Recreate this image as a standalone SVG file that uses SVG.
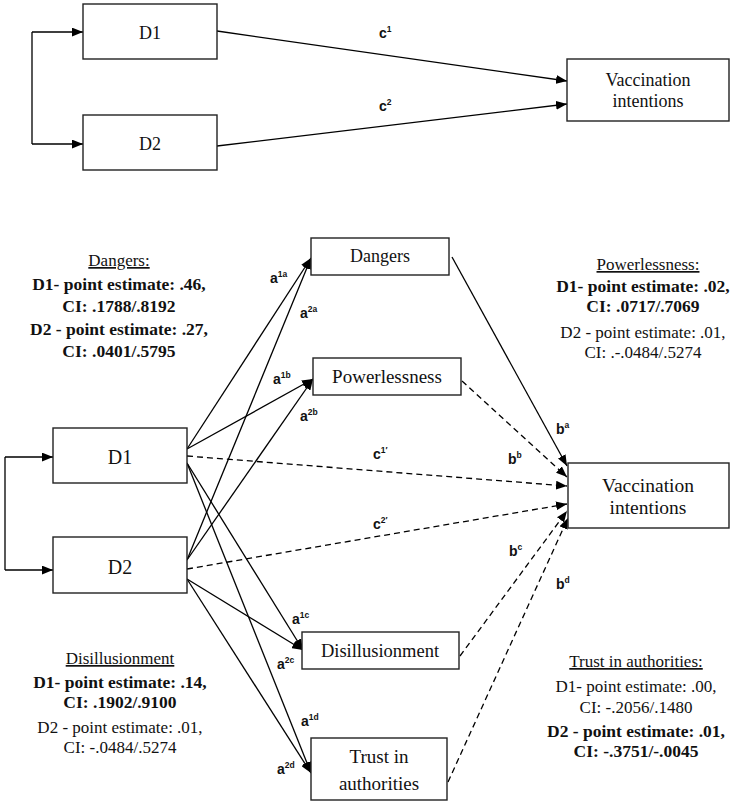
<svg xmlns="http://www.w3.org/2000/svg" width="752" height="804" viewBox="0 0 752 804">
<defs>
<marker id="ah" viewBox="0 0 10 8" refX="10" refY="4" markerWidth="11" markerHeight="9" markerUnits="userSpaceOnUse" orient="auto">
<path d="M0,0 L10,4 L0,8 Z" fill="#000"/>
</marker>
<style>
.box{fill:#fff;stroke:#222;stroke-width:1.4}
.ln{fill:none;stroke:#000;stroke-width:1.3}
.ar{marker-end:url(#ah)}
.ds{stroke-dasharray:6 4}
.t,.bt,.rt{fill:#111;text-anchor:middle}
.bt{font-weight:bold;font-size:17.5px}
.rt{font-size:17px}
.lb{font-family:'Liberation Sans',Arial,sans-serif;font-weight:bold;font-size:14px;fill:#111}
.sp{font-size:8.5px}
</style>
</defs>
<rect width="752" height="804" fill="#fff"/>

<g id="top-connectors">
<path class="ln ar" d="M32,32 L32,144 M32,32 L83,32"/>
<path class="ln ar" d="M32,144 L83,144"/>
<line class="ln ar" x1="217" y1="31" x2="567" y2="81"/>
<line class="ln ar" x1="217" y1="146" x2="567" y2="104"/>
<text class="lb" x="379" y="38">c<tspan class="sp" dy="-6">1</tspan></text>
<text class="lb" x="379" y="111">c<tspan class="sp" dy="-6">2</tspan></text>
</g>

<g font-family="Liberation Serif, Times New Roman, DejaVu Serif, serif">
<g id="top-D1">
<rect class="box" x="83" y="4" width="134" height="55"/>
<text class="t" x="150" y="39" font-size="18">D1</text>
</g>
<g id="top-D2">
<rect class="box" x="83" y="115" width="134" height="55"/>
<text class="t" x="150" y="150" font-size="18">D2</text>
</g>
<g id="top-vacc">
<rect class="box" x="567" y="59" width="162" height="62"/>
<text class="t" x="648" y="86" font-size="18">Vaccination</text>
<text class="t" x="648" y="107" font-size="18">intentions</text>
</g>
</g>

<g id="connectors">
<path class="ln ar" d="M5,457 L5,570 M5,457 L53,457"/>
<path class="ln ar" d="M5,570 L53,570"/>
<line class="ln ar" x1="187" y1="449" x2="311" y2="258"/>
<line class="ln ar" x1="187" y1="560" x2="311" y2="258"/>
<line class="ln ar" x1="187" y1="449" x2="313" y2="379"/>
<line class="ln ar" x1="187" y1="560" x2="313" y2="379"/>
<line class="ln ar" x1="187" y1="463" x2="303" y2="650"/>
<line class="ln ar" x1="187" y1="579" x2="303" y2="650"/>
<line class="ln ar" x1="187" y1="463" x2="311" y2="773"/>
<line class="ln ar" x1="187" y1="579" x2="311" y2="773"/>
<line class="ln ar ds" x1="187" y1="456" x2="567" y2="486"/>
<line class="ln ar ds" x1="187" y1="569" x2="567" y2="504"/>
<line class="ln ar" x1="452" y1="257" x2="567" y2="466"/>
<line class="ln ar ds" x1="462" y1="381" x2="567" y2="477"/>
<line class="ln ar ds" x1="460" y1="656" x2="567" y2="511"/>
<line class="ln ar ds" x1="448" y1="782" x2="568" y2="518"/>
<text class="lb" x="270" y="283">a<tspan class="sp" dy="-6">1a</tspan></text>
<text class="lb" x="300" y="318">a<tspan class="sp" dy="-6">2a</tspan></text>
<text class="lb" x="273" y="384">a<tspan class="sp" dy="-6">1b</tspan></text>
<text class="lb" x="300" y="421">a<tspan class="sp" dy="-6">2b</tspan></text>
<text class="lb" x="373" y="459">c<tspan class="sp" dy="-6">1′</tspan></text>
<text class="lb" x="373" y="529">c<tspan class="sp" dy="-6">2′</tspan></text>
<text class="lb" x="556" y="434">b<tspan class="sp" dy="-6">a</tspan></text>
<text class="lb" x="508" y="464">b<tspan class="sp" dy="-6">b</tspan></text>
<text class="lb" x="509" y="556">b<tspan class="sp" dy="-6">c</tspan></text>
<text class="lb" x="556" y="589">b<tspan class="sp" dy="-6">d</tspan></text>
<text class="lb" x="292" y="624">a<tspan class="sp" dy="-6">1c</tspan></text>
<text class="lb" x="277" y="669">a<tspan class="sp" dy="-6">2c</tspan></text>
<text class="lb" x="301" y="726">a<tspan class="sp" dy="-6">1d</tspan></text>
<text class="lb" x="277" y="774">a<tspan class="sp" dy="-6">2d</tspan></text>
</g>

<g font-family="Liberation Serif, Times New Roman, DejaVu Serif, serif">
<g id="D1">
<rect class="box" x="53" y="428" width="134" height="55"/>
<text class="t" x="120" y="464" font-size="20">D1</text>
</g>
<g id="D2">
<rect class="box" x="53" y="537" width="134" height="56"/>
<text class="t" x="120" y="574" font-size="20">D2</text>
</g>
<g id="dangers">
<rect class="box" x="311" y="238" width="138" height="37"/>
<text class="t" x="380" y="262" font-size="18">Dangers</text>
</g>
<g id="powerlessness">
<rect class="box" x="313" y="358" width="148" height="37"/>
<text class="t" x="387" y="383" font-size="19">Powerlessness</text>
</g>
<g id="vaccination">
<rect class="box" x="568" y="463" width="161" height="65"/>
<text class="t" x="648" y="492" font-size="19.5">Vaccination</text>
<text class="t" x="648" y="514" font-size="19.5">intentions</text>
</g>
<g id="disillusionment">
<rect class="box" x="302" y="632" width="157" height="37"/>
<text class="t" x="380" y="657" font-size="18.5">Disillusionment</text>
</g>
<g id="trust">
<rect class="box" x="311" y="738" width="136" height="62"/>
<text class="t" x="379" y="763" font-size="19">Trust in</text>
<text class="t" x="379" y="790" font-size="19">authorities</text>
</g>

<g id="note-dangers">
<text class="rt" x="119" y="266" text-decoration="underline">Dangers:</text>
<text class="bt" x="119" y="290">D1- point estimate: .46,</text>
<text class="bt" x="119" y="312">CI: .1788/.8192</text>
<text class="bt" x="119" y="335">D2 - point estimate: .27,</text>
<text class="bt" x="119" y="357">CI: .0401/.5795</text>
</g>
<g id="note-powerlessness">
<text class="rt" x="648" y="270" text-decoration="underline">Powerlessness:</text>
<text class="bt" x="643" y="292">D1- point estimate: .02,</text>
<text class="bt" x="643" y="312">CI: .0717/.7069</text>
<text class="rt" x="643" y="338">D2 - point estimate: .01,</text>
<text class="rt" x="643" y="358">CI: .-.0484/.5274</text>
</g>
<g id="note-disillusionment">
<text class="rt" x="120" y="664" text-decoration="underline">Disillusionment</text>
<text class="bt" x="120" y="688">D1- point estimate: .14,</text>
<text class="bt" x="120" y="708">CI: .1902/.9100</text>
<text class="rt" x="120" y="733">D2 - point estimate: .01,</text>
<text class="rt" x="120" y="753">CI: -.0484/.5274</text>
</g>
<g id="note-trust">
<text class="rt" x="636" y="667" text-decoration="underline">Trust in authorities:</text>
<text class="rt" x="636" y="692">D1- point estimate: .00,</text>
<text class="rt" x="636" y="713">CI: -.2056/.1480</text>
<text class="bt" x="636" y="737">D2 - point estimate: .01,</text>
<text class="bt" x="636" y="757">CI: -.3751/-.0045</text>
</g>
</g>
</svg>
